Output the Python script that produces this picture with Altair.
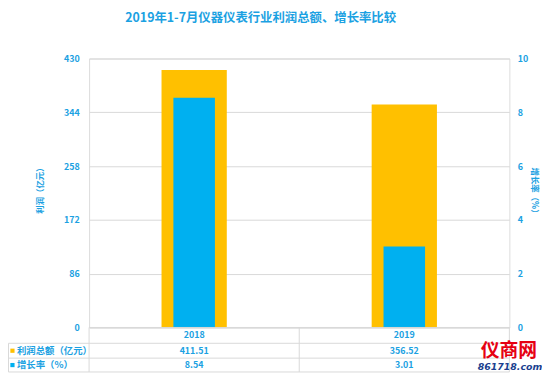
import altair as alt
import pandas as pd

years = ["2018", "2019"]
profit = [411.51, 356.52]
growth = [8.54, 3.01]
profit_text = ["411.51", "356.52"]
growth_text = ["8.54", "3.01"]
left_ticks = [0, 86, 172, 258, 344, 430]
right_ticks = [0, 2, 4, 6, 8, 10]
row_labels = ["利润总额（亿元）", "增长率（%）"]
title_text = "2019年1-7月仪器仪表行业利润总额、增长率比较"
left_title = "利润（亿元）"
right_title = "增长率（%）"

GOLD = "#FFC000"
BLUE = "#00B0F0"
TXT = "#1BA1E2"
GRID = "#D9D9D9"
FONT = "Noto Sans CJK SC"

df = pd.DataFrame({"year": years, "profit": profit, "growth": growth,
                   "ptxt": profit_text, "gtxt": growth_text})
one = pd.DataFrame({"k": [0]})

xenc = alt.X("year:N", sort=years, axis=None,
             scale=alt.Scale(paddingInner=0, paddingOuter=0))

gold = alt.Chart(df).mark_bar(color=GOLD, size=66).encode(
    x=xenc,
    y=alt.Y("profit:Q", scale=alt.Scale(domain=[0, 430], nice=False),
            axis=alt.Axis(values=left_ticks, orient="left", title=left_title,
                          grid=True, gridColor=GRID, domain=False, ticks=False,
                          labelPadding=10, labelFontSize=9, labelFontWeight="bold",
                          labelColor=TXT, labelFont=FONT,
                          titleFont=FONT, titleFontSize=8.5, titleFontWeight="bold",
                          titleColor=TXT, titleBaseline="middle",
                          titleX=-50, titleY=131)),
)

blue = alt.Chart(df).mark_bar(color=BLUE, size=42).encode(
    x=xenc,
    y=alt.Y("growth:Q", scale=alt.Scale(domain=[0, 10], nice=False),
            axis=alt.Axis(values=right_ticks, orient="right", title=right_title,
                          grid=False, domain=False, ticks=False,
                          labelPadding=8, labelFontSize=9, labelFontWeight="bold",
                          labelColor=TXT, labelFont=FONT,
                          titleFont=FONT, titleFontSize=8.5, titleFontWeight="bold",
                          titleColor=TXT, titleBaseline="middle",
                          titleX=25, titleY=135)),
)

def rule(x1, x2, y1, y2):
    return alt.Chart(one).mark_rule(color=GRID, strokeWidth=1).encode(
        x=alt.value(x1), x2=alt.value(x2), y=alt.value(y1), y2=alt.value(y2))

rules = [
    rule(0, 425, 272, 272),
    rule(-81.5, 425, 288, 288),
    rule(-81.5, 425, 303, 303),
    rule(-81.5, 425, 317, 317),
    rule(-81.5, -81.5, 288, 317),
    rule(0, 0, 272, 317),
    rule(212.5, 212.5, 272, 317),
    rule(425, 425, 272, 317),
]

def cell(field, yv):
    return alt.Chart(df).mark_text(font=FONT, fontSize=9, fontWeight="bold",
                                   color=TXT, baseline="middle").encode(
        x=xenc, y=alt.value(yv), text=f"{field}:N")

cells = [cell("year", 280), cell("ptxt", 295.5), cell("gtxt", 310)]

lab_df = pd.DataFrame({"label": row_labels, "row": [0, 1]})
lab1 = alt.Chart(lab_df.iloc[[0]]).mark_text(font=FONT, fontSize=9.5, fontWeight="bold",
                                             color=TXT, align="left", baseline="middle").encode(
    x=alt.value(-73), y=alt.value(295.5), text="label:N")
lab2 = alt.Chart(lab_df.iloc[[1]]).mark_text(font=FONT, fontSize=9.5, fontWeight="bold",
                                             color=TXT, align="left", baseline="middle").encode(
    x=alt.value(-73), y=alt.value(310), text="label:N")
sq1 = alt.Chart(lab_df.iloc[[0]]).mark_square(color=GOLD, size=18, opacity=1).encode(
    x=alt.value(-77.5), y=alt.value(295.5))
sq2 = alt.Chart(lab_df.iloc[[1]]).mark_square(color=BLUE, size=18, opacity=1).encode(
    x=alt.value(-77.5), y=alt.value(310))

wm_df = pd.DataFrame({"t": ["仪商网"], "u": ["861718.com"]})
wm1 = alt.Chart(wm_df).mark_text(font=FONT, fontSize=19, fontWeight="bold",
                                 color="#E60012", align="left", baseline="middle").encode(
    x=alt.value(396), y=alt.value(296), text="t:N")
wm2 = alt.Chart(wm_df).mark_text(font="DejaVu Sans", fontSize=9.5, fontWeight="bold",
                                 fontStyle="italic", color="#1B3F8F", align="left",
                                 baseline="middle").encode(
    x=alt.value(393), y=alt.value(312), text="u:N")

bars = alt.layer(gold, blue).resolve_scale(y="independent")

chart = alt.layer(bars, *rules, *cells, lab1, lab2, sq1, sq2, wm1, wm2).properties(
    width=425, height=272,
    title=alt.TitleParams(title_text, fontSize=12.5, fontWeight="bold", color=TXT,
                          font=FONT, anchor="middle", dx=-39, offset=30),
    autosize=alt.AutoSizeParams(type="none"),
    padding={"left": 82, "top": 49, "right": 33, "bottom": 48},
).configure_view(stroke=None).configure(background="white")

chart.save("out.html", embed_options={"renderer": "svg", "actions": False})
